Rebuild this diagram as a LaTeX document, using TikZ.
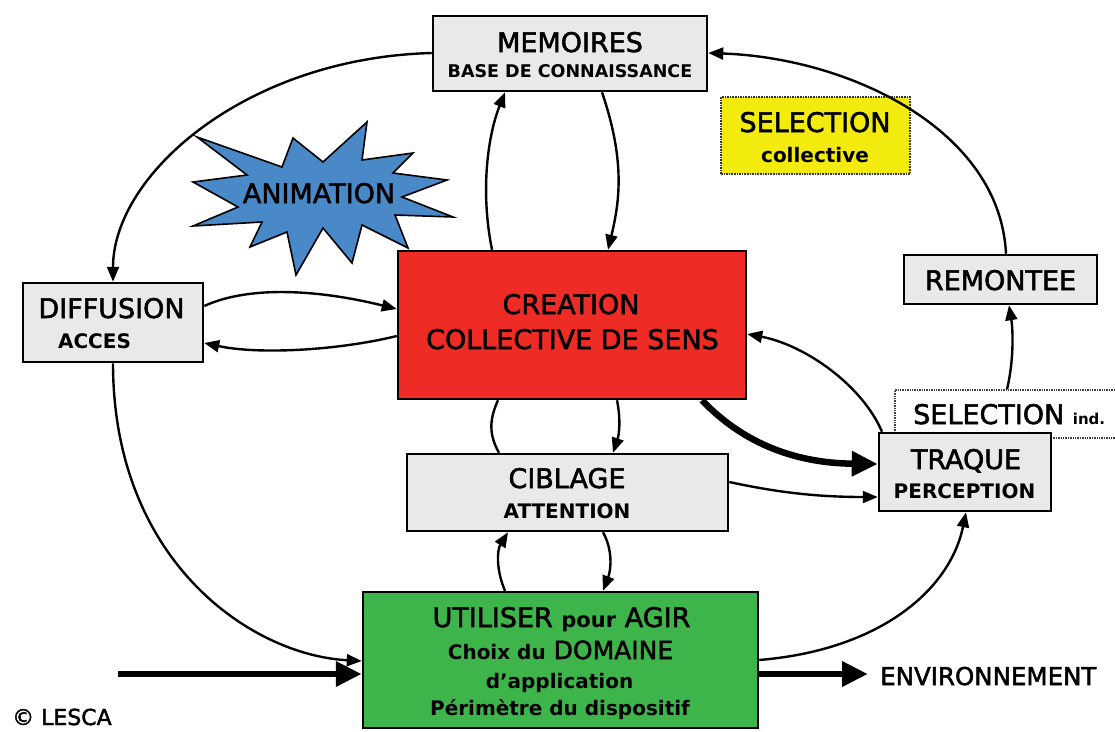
\documentclass[tikz,border=0pt]{standalone}
\usepackage{fontspec}
\setmainfont{DejaVu Sans}
\newfontfamily\medfont[FakeBold=2]{DejaVu Sans}
\usetikzlibrary{arrows.meta}
\newcommand\fsz[1]{\fontsize{#1pt}{#1pt}\selectfont}
\definecolor{boxgray}{HTML}{E9E9E9}
\definecolor{boxred}{HTML}{EE2B24}
\definecolor{boxgreen}{HTML}{3DB54A}
\definecolor{starblue}{HTML}{4A89C8}
\definecolor{selyellow}{HTML}{F3EA0E}
\tikzset{
  box/.style={draw=black, line width=2.5pt, inner sep=0pt},
  graybox/.style={box, fill=boxgray},
  lbl/.style={anchor=base, inner sep=0pt, text=black},
  big/.style={lbl, font=\medfont\fsz{27}},
  sub/.style={lbl, font=\bfseries\fsz{20}},
  conn/.style={line width=2.4pt, -{Triangle[length=15pt,width=12pt]}},
  plain/.style={line width=2.4pt},
  thick arrow/.style={line width=6.5pt, -{Triangle[length=26pt,width=24pt]}},
}
\begin{document}
\begin{tikzpicture}[x=1pt,y=-1pt]
\useasboundingbox (0,0) rectangle (1115,731);
\fill[white] (0,0) rectangle (1115,731);

% boxes
\node[graybox, minimum width=274pt, minimum height=75pt] (memo) at (570,53.5) {};
\node[draw=black!80, densely dotted, line width=1.6pt, fill=selyellow, minimum width=189pt, minimum height=77pt, inner sep=0pt] (selcol) at (815.5,135.5) {};
\node[graybox, minimum width=193pt, minimum height=49pt] (remo) at (1000.5,279.5) {};
\node[graybox, minimum width=180pt, minimum height=79pt] (diff) at (113,322.5) {};
\node[box, fill=boxred, minimum width=348pt, minimum height=148pt] (crea) at (572,325) {};
\node[draw=black!75, densely dotted, line width=1.4pt, fill=white, minimum width=230pt, minimum height=48pt, inner sep=0pt] (selind) at (1010,414) {};
\node[graybox, minimum width=172pt, minimum height=78pt] (traq) at (965,472) {};
\node[graybox, minimum width=321pt, minimum height=77pt] (cibl) at (567.5,492.5) {};
\node[box, fill=boxgreen, minimum width=395pt, minimum height=136pt] (util) at (560.5,660) {};

% texts
\node[big] (tmemo) at (570,52) {MEMOIRES};
\node[lbl, font=\bfseries\fsz{17.5}] (tmemo2) at (570,77) {BASE DE CONNAISSANCE};
\node[big] (tsel) at (815,132) {SELECTION};
\node[sub] (tsel2) at (815,162) {collective};
\node[big] (tremo) at (1000.5,290) {REMONTEE};
\node[big] (tdiff) at (111.5,318) {DIFFUSION};
\node[sub] (tdiff2) at (94.5,348) {ACCES};
\node[big] (tcrea) at (571,314) {CREATION};
\node[big] (tcrea2) at (572.5,349) {COLLECTIVE DE SENS};
\node[lbl, anchor=base west, font=\medfont\fsz{27}] (tselind) at (913,424) {SELECTION {\normalfont\bfseries\fsz{15}ind.}};
\node[big] (ttraq) at (966,469) {TRAQUE};
\node[sub] (ttraq2) at (964.5,498) {PERCEPTION};
\node[big] (tcibl) at (567,488) {CIBLAGE};
\node[sub] (tcibl2) at (567,518) {ATTENTION};
\node[lbl, font=\medfont\fsz{27}] (tutil1) at (561.5,627) {UTILISER {\normalfont\bfseries\fsz{21}pour} AGIR};
\node[lbl, font=\medfont\fsz{25}] (tutil2) at (560.5,659) {{\normalfont\bfseries\fsz{20}Choix du} DOMAINE};
\node[sub] (tutil3) at (559.5,688) {d’application};
\node[sub] (tutil4) at (560,715) {Périmètre du dispositif};
\node[lbl, anchor=base west, font=\medfont\fsz{24.5}] (tenv) at (880,685) {ENVIRONNEMENT};
\node[lbl, anchor=base west, font=\medfont\fsz{22}] (tcopy) at (12,725) {© LESCA};

% big loops
\draw[conn] (memo.west |- 0,53) .. controls (245,58) and (113,175) .. (diff.north);
\draw[conn] (1006,0 |- remo.north) .. controls (1000,130) and (850,58) .. (memo.east |- 0,53);
\draw[conn] (diff.south) .. controls (113,560) and (250,655) .. (util.west |- 0,661);

% starburst
\draw[fill=starblue, line width=1.6pt, line join=miter]
  (197,137) -- (282,167) -- (293,138) -- (323,162) -- (367,122) -- (362,160)
  -- (413,153) -- (393,173) -- (447,180) -- (402,197) -- (453,217) -- (395,215)
  -- (408,248) -- (362,225) -- (352,263) -- (323,228) -- (296,275) -- (287,232)
  -- (250,247) -- (262,222) -- (193,226) -- (238,207) -- (193,182) -- (247,175) -- cycle;
\node[big] (tanim) at (319,203) {ANIMATION};

% memoires <-> creation
\draw[conn] (492,0 |- crea.north) .. controls (480,190) and (488,135) .. (505,0 |- memo.south);
\draw[conn] (602,0 |- memo.south) .. controls (625,160) and (620,200) .. (608,0 |- crea.north);

% diffusion <-> creation
\draw[conn] (diff.east |- 0,306) .. controls (250,285) and (320,290) .. (crea.west |- 0,309);
\draw[conn] (crea.west |- 0,336) .. controls (340,350) and (260,355) .. (diff.east |- 0,343);

% creation <-> ciblage
\draw[plain] (498,0 |- crea.south) .. controls (489,420) and (489,435) .. (499,0 |- cibl.north);
\draw[conn] (617,0 |- crea.south) .. controls (621,420) and (619,435) .. (613,0 |- cibl.north);

% ciblage <-> utiliser
\draw[conn] (505,0 |- util.north) .. controls (496,570) and (497,550) .. (508,0 |- cibl.south);
\draw[conn] (603,0 |- cibl.south) .. controls (613,550) and (611,570) .. (603,0 |- util.north);

% to traque
\draw[thick arrow] (702,0 |- crea.south) .. controls (740,440) and (790,463) .. (traq.west |- 0,464);
\draw[conn] (cibl.east |- 0,482) .. controls (780,493) and (820,497) .. (traq.west |- 0,497);
\draw[conn] (util.east |- 0,660) .. controls (880,650) and (950,590) .. (966,0 |- traq.south);
\draw[conn] (882,0 |- traq.north) .. controls (862,385) and (805,345) .. (crea.east |- 0,334);

% selection ind -> remontee
\draw[conn] (1007,0 |- selind.north) .. controls (1014,360) and (1013,330) .. (1009,0 |- remo.south);

% input / output
\coordinate (inp) at (118,674);
\coordinate (outp) at (868,674);
\draw[thick arrow] (inp) -- (util.west |- inp);
\draw[thick arrow] (util.east |- outp) -- (outp);
\end{tikzpicture}
\end{document}
